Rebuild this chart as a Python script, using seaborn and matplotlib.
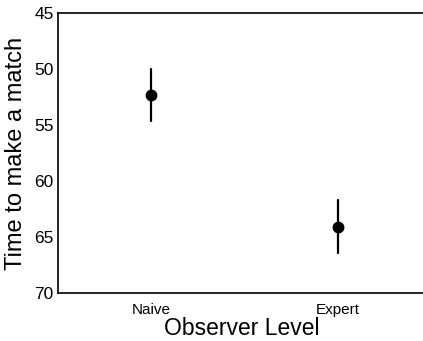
import pandas as pd
import seaborn as sns
import matplotlib.pyplot as plt

levels = ["Naive", "Expert"]
means = [52.3, 64.05]
errs = [2.35, 2.38]

# long format: mean-err, mean, mean+err so that min/max interval gives the bars
rows = []
for lev, m, e in zip(levels, means, errs):
    for v in (m - e, m, m + e):
        rows.append({"level": lev, "time": v})
df = pd.DataFrame(rows)

sns.set_style("white")
plt.rcParams["font.family"] = ["Liberation Sans", "DejaVu Sans"]
plt.rcParams["text.color"] = "black"
plt.rcParams["axes.labelcolor"] = "black"

fig = plt.figure(figsize=(4.23, 3.41), dpi=100)
ax = fig.add_axes([0.137, 0.14, 0.87, 0.821])

sns.pointplot(data=df, x="level", y="time", order=levels, estimator="mean",
              errorbar=("pi", 100), linestyle="none", color="black",
              markers="o", markersize=6.5, err_kws={"linewidth": 1.6}, ax=ax)

ax.set_xlim(-0.5, 1.47)
ax.set_ylim(70, 45)
ax.set_yticks([45, 50, 55, 60, 65, 70])
ax.tick_params(axis="both", direction="in", length=3, width=1, colors="black")
ax.tick_params(axis="y", labelsize=12.5, pad=3)
ax.tick_params(axis="x", labelsize=11, pad=7)
ax.set_xlabel("Observer Level", fontsize=16.5, labelpad=0)
ax.set_ylabel("Time to make a match", fontsize=17, labelpad=5)
for s in ["left", "top", "bottom"]:
    ax.spines[s].set_color("black")
    ax.spines[s].set_linewidth(1.2)
ax.spines["right"].set_visible(False)

fig.savefig("out.png", dpi=100)
